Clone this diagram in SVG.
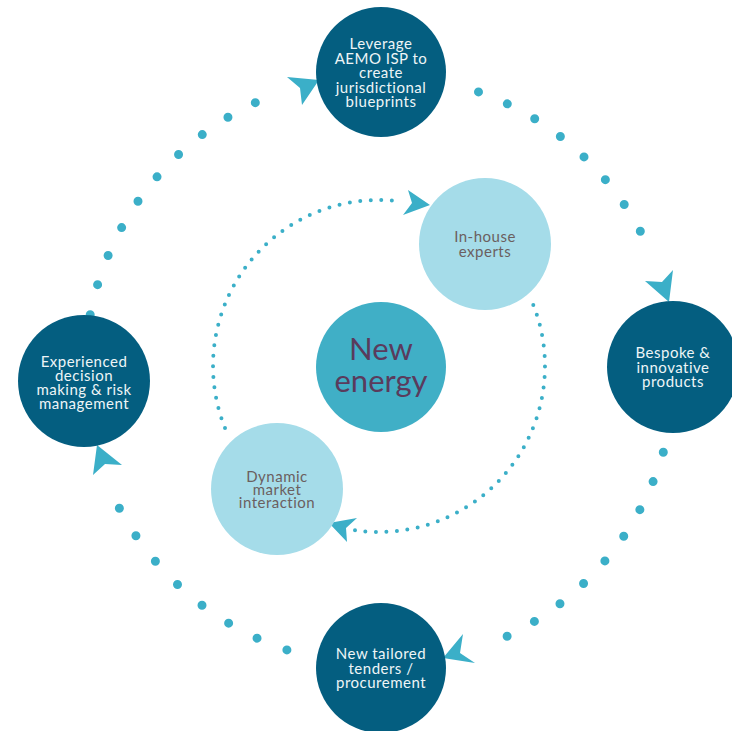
<svg xmlns="http://www.w3.org/2000/svg" width="732" height="731" viewBox="0 0 732 731">
<style>
.dot{fill:none;stroke:#3BAFC8;stroke-linecap:round}
.outer{stroke-width:9}
.inner{stroke-width:4}
.head{fill:#3BAFC8}
.dark{fill:#045E80}
.mid{fill:#40AFC6}
.light{fill:#A5DCE9}
text{font-family:Lato,"Open Sans","Liberation Sans",sans-serif;text-anchor:middle}
.wt{fill:#EEF5F7;font-size:15px;letter-spacing:0.5px}
.gt{fill:#6B5F60;font-size:15px;letter-spacing:0.5px}
.ct{fill:#5A3B5C;font-size:31px}
</style>
<rect width="732" height="731" fill="#FFFFFF"/>
<g id="connectors">
<path class="dot outer" stroke-dasharray="0 30.99" d="M90.2,314.7 A295,295 0 0 1 284.0,91.1"/>
<path class="dot outer" stroke-dasharray="0 31.2" d="M478.5,91.9 A295,295 0 0 1 653.5,259.5"/>
<path class="dot outer" stroke-dasharray="0 31.05" d="M663.3,452.3 A295,295 0 0 1 478.5,648.1"/>
<path class="dot outer" stroke-dasharray="0 32.1" d="M286.9,649.9 A295,295 0 0 1 105.9,479.1"/>
<path class="dot inner" stroke-dasharray="0 10.52" d="M225.0,427.9 A166,166 0 0 1 402.1,201.6"/>
<path class="dot inner" stroke-dasharray="0 10.52" d="M533.3,304.9 A166,166 0 0 1 355.0,530.3"/>
<polygon class="head" points="319,80 287,77 300,88 302,105"/>
<polygon class="head" points="669,302 645,281 662,282 673,270"/>
<polygon class="head" points="443,658 463,634 460,653 475,663"/>
<polygon class="head" points="97,445 93,475 105,464 122,465"/>
<polygon class="head" points="430,205 408,190 412,203 403,215"/>
<polygon class="head" points="329,523 357,518 346,528 347,542"/>
</g>
<g id="node-leverage">
<circle class="dark" cx="381" cy="72" r="65"/>
<text class="wt"><tspan x="381" y="49">Leverage</tspan><tspan x="381" y="63.5">AEMO ISP to</tspan><tspan x="381" y="78">create</tspan><tspan x="381" y="92.5">jurisdictional</tspan><tspan x="381" y="107">blueprints</tspan></text>
</g>
<g id="node-bespoke">
<circle class="dark" cx="673" cy="367" r="66"/>
<text class="wt"><tspan x="673" y="358">Bespoke &amp;</tspan><tspan x="673" y="373">innovative</tspan><tspan x="673" y="387">products</tspan></text>
</g>
<g id="node-tenders">
<circle class="dark" cx="381" cy="668" r="65"/>
<text class="wt"><tspan x="381" y="659">New tailored</tspan><tspan x="381" y="674">tenders /</tspan><tspan x="381" y="688">procurement</tspan></text>
</g>
<g id="node-experienced">
<circle class="dark" cx="84" cy="381" r="66"/>
<text class="wt"><tspan x="84" y="367">Experienced</tspan><tspan x="84" y="381">decision</tspan><tspan x="84" y="395">making &amp; risk</tspan><tspan x="84" y="409">management</tspan></text>
</g>
<g id="node-new-energy">
<circle class="mid" cx="381" cy="367" r="65"/>
<text class="ct"><tspan x="381" y="360">New</tspan><tspan x="381" y="392">energy</tspan></text>
</g>
<g id="node-inhouse">
<circle class="light" cx="485" cy="244" r="66"/>
<text class="gt"><tspan x="485" y="242">In-house</tspan><tspan x="485" y="257">experts</tspan></text>
</g>
<g id="node-dynamic">
<circle class="light" cx="277" cy="489" r="66"/>
<text class="gt"><tspan x="277" y="482">Dynamic</tspan><tspan x="277" y="495">market</tspan><tspan x="277" y="508">interaction</tspan></text>
</g>
</svg>
